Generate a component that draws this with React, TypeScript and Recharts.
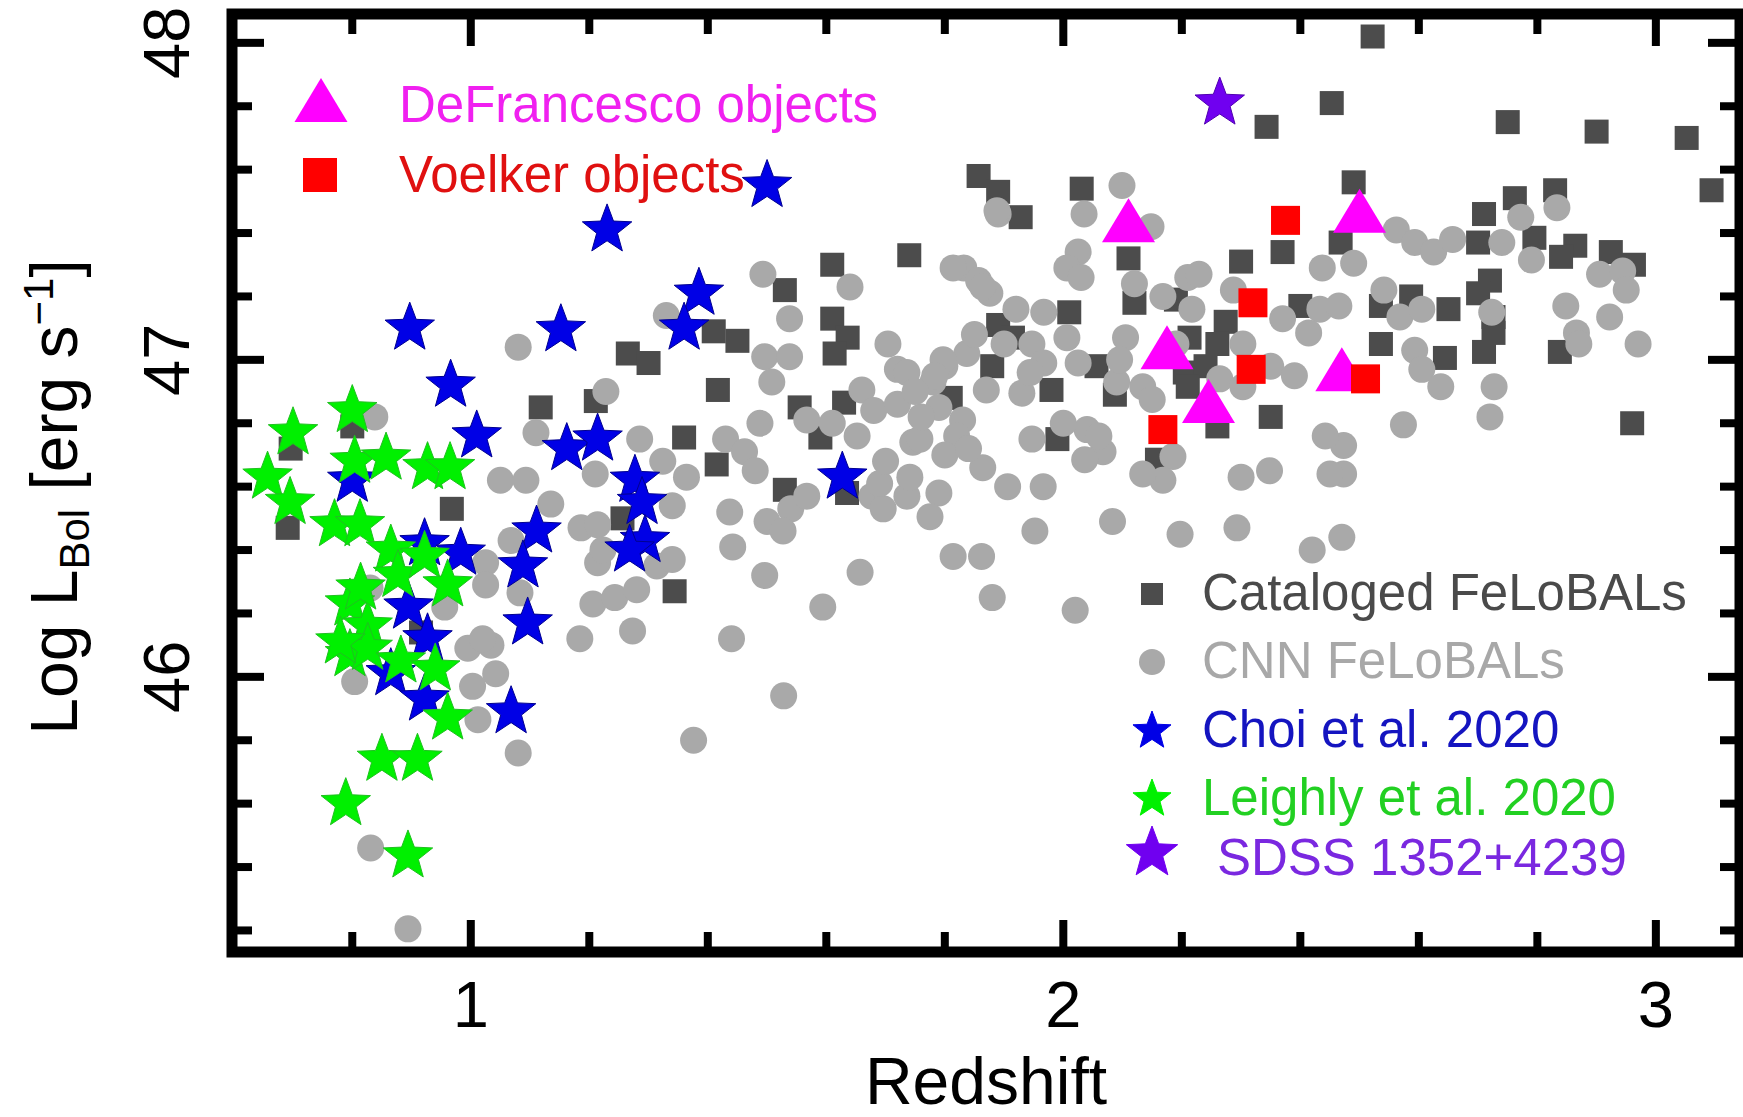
import React from "react";
import { ScatterChart, Scatter, XAxis, YAxis, ReferenceArea } from "recharts";

const FONT = '"Liberation Sans", Arial, Helvetica, sans-serif';

// axis ranges and ticks (minor every 0.2, labelled on integers)
const X_DOMAIN: [number, number] = [0.597, 3.142];
const Y_DOMAIN: [number, number] = [45.132, 48.091];
const X_TICKS = [0.8, 1, 1.2, 1.4, 1.6, 1.8, 2, 2.2, 2.4, 2.6, 2.8, 3];
const Y_TICKS = [45.2, 45.4, 45.6, 45.8, 46, 46.2, 46.4, 46.6, 46.8, 47, 47.2, 47.4, 47.6, 47.8, 48];

// [redshift, log L_bol]
const cataloged = [
  [0.691, 46.47], [0.696, 46.72], [0.8, 46.79], [0.968, 46.53], [1.118, 46.85], [1.211, 46.87],
  [0.916, 46.14], [1.256, 46.5], [1.61, 47.3], [1.53, 47.22], [1.74, 47.33], [1.61, 47.13],
  [1.636, 47.07], [1.614, 47.02], [1.265, 47.02], [1.3, 46.99], [1.41, 47.09], [1.45, 47.06],
  [1.417, 46.905], [1.36, 46.755], [1.415, 46.67], [1.555, 46.85], [1.63, 46.865], [1.59, 46.755],
  [1.53, 46.59], [1.635, 46.58], [1.344, 46.27], [1.857, 47.58], [1.89, 47.53], [1.928, 47.45],
  [2.031, 47.54], [2.11, 47.32], [2.12, 47.18], [2.01, 47.15], [1.89, 47.11], [1.915, 47.07],
  [2.19, 47.19], [2.205, 46.96], [1.98, 46.905], [1.88, 46.98], [2.522, 48.02], [2.453, 47.81],
  [2.343, 47.735], [2.75, 47.75], [2.9, 47.72], [3.052, 47.7], [3.094, 47.535], [2.49, 47.56],
  [2.71, 47.46], [2.762, 47.51], [2.83, 47.535], [2.37, 47.34], [2.3, 47.31], [2.468, 47.37],
  [2.7, 47.37], [2.795, 47.385], [2.864, 47.36], [2.84, 47.325], [2.924, 47.34], [2.963, 47.3],
  [2.72, 47.25], [2.7, 47.21], [2.65, 47.16], [2.587, 47.2], [2.536, 47.17], [2.726, 47.135],
  [2.726, 47.085], [2.71, 47.025], [2.536, 47.05], [2.644, 47.006], [2.838, 47.025], [2.274, 47.12],
  [2.4, 47.17], [2.26, 47.05], [2.24, 46.98], [2.96, 46.8], [2.21, 46.915], [1.99, 46.75],
  [2.087, 46.89], [2.26, 46.79], [2.35, 46.82], [2.158, 46.685], [2.056, 46.98], [1.81, 46.88],
  [2.213, 47.07],
];

const cnn = [
  [0.838, 46.82], [1.228, 46.9], [1.11, 46.77], [1.285, 46.75], [1.05, 46.62], [1.093, 46.62],
  [1.135, 46.545], [1.21, 46.64], [1.068, 46.43], [1.186, 46.47], [1.214, 46.48], [1.214, 46.36],
  [1.025, 46.36], [1.025, 46.29], [1.083, 46.265], [1.206, 46.23], [1.243, 46.25], [1.273, 46.145],
  [1.184, 46.12], [0.995, 46.09], [1.034, 46.1], [1.042, 46.01], [1.003, 45.97], [1.012, 45.865],
  [1.08, 45.76], [0.956, 46.22], [0.83, 46.28], [0.804, 45.985], [0.831, 45.46], [0.894, 45.205],
  [1.08, 47.04], [1.33, 47.14], [1.493, 47.27], [1.64, 47.23], [1.538, 47.13], [1.496, 47.01],
  [1.538, 47.01], [1.508, 46.93], [1.704, 47.05], [1.72, 46.97], [1.66, 46.905], [1.68, 46.84],
  [1.567, 46.81], [1.61, 46.8], [1.488, 46.8], [1.652, 46.76], [1.746, 46.74], [1.43, 46.75],
  [1.462, 46.71], [1.48, 46.65], [1.324, 46.68], [1.364, 46.63], [1.437, 46.52], [1.442, 46.41],
  [1.5, 46.49], [1.54, 46.53], [1.567, 46.57], [1.527, 46.46], [1.677, 46.57], [1.696, 46.53],
  [1.736, 46.57], [1.741, 46.63], [1.496, 46.32], [1.657, 46.33], [1.594, 46.22], [1.44, 46.12],
  [1.223, 46.4], [1.28, 46.275], [1.02, 46.12], [1.34, 46.54], [1.314, 46.35], [1.34, 46.37],
  [2.099, 47.55], [2.035, 47.46], [1.89, 47.46], [2.025, 47.34], [2.006, 47.29], [2.03, 47.26],
  [2.148, 47.42], [2.12, 47.24], [1.832, 47.29], [1.857, 47.25], [1.876, 47.21], [1.92, 47.16],
  [1.967, 47.15], [1.947, 47.05], [2.006, 47.07], [2.025, 46.99], [1.967, 46.99], [1.8, 46.98],
  [1.78, 46.93], [1.837, 47.02], [2.09, 46.93], [2.19, 47.05], [2.21, 47.26], [2.105, 47.07],
  [2.229, 47.27], [2.168, 47.2], [2.217, 47.16], [2.287, 47.22], [2.437, 47.29], [2.49, 47.305],
  [2.562, 47.41], [2.593, 47.37], [2.625, 47.34], [2.657, 47.38], [2.74, 47.37], [2.772, 47.45],
  [2.833, 47.48], [2.905, 47.27], [2.944, 47.28], [2.95, 47.22], [2.79, 47.315], [2.541, 47.22],
  [2.568, 47.135], [2.605, 47.16], [2.433, 47.16], [2.465, 47.17], [2.414, 47.085], [2.37, 47.13],
  [2.35, 46.98], [2.39, 46.95], [2.593, 47.03], [2.605, 46.97], [2.637, 46.915], [2.727, 46.915],
  [2.848, 47.17], [2.866, 47.085], [2.922, 47.135], [2.97, 47.05], [2.723, 47.15], [2.87, 47.05],
  [2.72, 46.82], [2.574, 46.795], [2.473, 46.73], [2.473, 46.64], [2.47, 46.44], [1.888, 47.47],
  [1.814, 47.29], [1.864, 47.23], [1.797, 47.0], [1.736, 46.96], [1.783, 46.95], [1.79, 46.85],
  [1.83, 46.81], [1.87, 46.905], [1.93, 46.895], [1.944, 46.96], [2.04, 46.78], [2.067, 46.71],
  [2.036, 46.685], [1.947, 46.75], [1.966, 46.6], [1.906, 46.6], [1.864, 46.66], [1.758, 46.75],
  [1.79, 46.58], [2.134, 46.915], [2.095, 47.0], [2.264, 46.94], [2.15, 46.875], [2.303, 47.05],
  [2.303, 46.915], [2.442, 46.76], [2.45, 46.64], [2.348, 46.65], [2.3, 46.63], [2.185, 46.695],
  [2.168, 46.62], [2.134, 46.64], [2.083, 46.49], [2.197, 46.45], [2.293, 46.47], [2.42, 46.4],
  [1.952, 46.46], [1.814, 46.38], [1.862, 46.38], [1.88, 46.25], [2.02, 46.21], [1.775, 46.505],
  [1.69, 46.61], [1.528, 45.94], [1.376, 45.8],
  [1.72, 46.86], [1.76, 46.82], [1.75, 46.9], [1.82, 46.76], [1.8, 46.7], [1.7, 46.68],
  [1.84, 46.72], [2.0, 46.8], [2.06, 46.76], [1.85, 47.08], [1.9, 47.05],
];

const choi = [
  [1.5, 47.55], [1.23, 47.41], [1.385, 47.21], [1.36, 47.1], [1.152, 47.095], [0.897, 47.1],
  [0.966, 46.92], [1.01, 46.76], [1.162, 46.72], [1.214, 46.75], [1.277, 46.62], [1.289, 46.55],
  [1.294, 46.43], [1.268, 46.4], [1.111, 46.46], [1.088, 46.35], [1.096, 46.17], [1.068, 45.89],
  [1.627, 46.63], [0.8, 46.62], [0.922, 46.42], [0.983, 46.39], [0.895, 46.22], [0.927, 46.12],
  [0.865, 46.01], [0.922, 45.93],
];

const leighly = [
  [0.7, 46.77], [0.8, 46.84], [0.657, 46.63], [0.695, 46.55], [0.804, 46.68], [0.857, 46.69],
  [0.927, 46.66], [0.965, 46.66], [0.77, 46.48], [0.813, 46.48], [0.865, 46.4], [0.877, 46.32],
  [0.922, 46.38], [0.961, 46.29], [0.796, 46.23], [0.826, 46.16], [0.796, 46.07], [0.826, 46.09],
  [0.882, 46.05], [0.94, 46.025], [0.961, 45.87], [0.85, 45.74], [0.91, 45.74], [0.789, 45.6],
  [0.894, 45.435], [0.78, 46.11], [0.814, 46.28],
];

const deFrancesco = [[2.11, 47.44], [2.5, 47.47], [2.175, 47.04], [2.245, 46.87], [2.47, 46.97]];
const voelker = [[2.375, 47.44], [2.32, 47.18], [2.317, 46.97], [2.168, 46.78], [2.51, 46.94]];
const sdss1352 = [[2.264, 47.81]];

const toPts = (a: number[][]) => a.map(([x, y]) => ({ x, y }));

const C_CAT = "#4c4c4c";
const C_CNN = "#a9a9a9";
const C_CHOI = "#0000e6";
const C_LEIGH = "#00f000";
const C_SDSS = "#7000f0";
const C_DEF = "#ff00ff";
const C_VOE = "#ff0000";

function starPath(cx: number, cy: number, R: number) {
  const r = R * 0.42;
  let d = "";
  for (let i = 0; i < 10; i++) {
    const rad = i % 2 === 0 ? R : r;
    const a = -Math.PI / 2 + (i * Math.PI) / 5;
    d += (i === 0 ? "M" : "L") + (cx + rad * Math.cos(a)).toFixed(2) + "," + (cy + rad * Math.sin(a)).toFixed(2);
  }
  return d + "Z";
}

const Star = ({ cx, cy, R, fill, stroke }: any) => (
  <path d={starPath(cx, cy, R)} fill={fill} stroke={stroke} strokeWidth={1} />
);
const Square = ({ cx, cy, s, fill }: any) => <rect x={cx - s / 2} y={cy - s / 2} width={s} height={s} fill={fill} />;
const Tri = ({ cx, cy, fill }: any) => (
  <path d={`M${cx},${cy - 22}L${cx - 26.5},${cy + 22}L${cx + 26.5},${cy + 22}Z`} fill={fill} />
);

const isMajor = (v: number) => Math.abs(v - Math.round(v)) < 1e-6;
const MAJOR = 32;
const MINOR = 20;
const TW = 8;

const BottomTick = ({ x, y, payload }: any) => {
  const v = payload.value;
  const m = isMajor(v);
  return (
    <g>
      <line x1={x} x2={x} y1={y} y2={y - (m ? MAJOR : MINOR)} stroke="#000" strokeWidth={TW} />
      {m && (
        <text x={x} y={y + 75} textAnchor="middle" fontSize={65} fontFamily={FONT} fill="#000">
          {v}
        </text>
      )}
    </g>
  );
};
const TopTick = ({ x, y, payload }: any) => (
  <line x1={x} x2={x} y1={y} y2={y + (isMajor(payload.value) ? MAJOR : MINOR)} stroke="#000" strokeWidth={TW} />
);
const LeftTick = ({ x, y, payload }: any) => {
  const v = payload.value;
  const m = isMajor(v);
  const lx = x - 43;
  return (
    <g>
      <line x1={x} x2={x + (m ? MAJOR : MINOR)} y1={y} y2={y} stroke="#000" strokeWidth={TW} />
      {m && (
        <text x={lx} y={y} transform={`rotate(-90 ${lx} ${y})`} textAnchor="middle" fontSize={65} fontFamily={FONT} fill="#000">
          {v}
        </text>
      )}
    </g>
  );
};
const RightTick = ({ x, y, payload }: any) => (
  <line x1={x} x2={x - (isMajor(payload.value) ? MAJOR : MINOR)} y1={y} y2={y} stroke="#000" strokeWidth={TW} />
);

const legendTop = [
  { label: "DeFrancesco objects", color: C_DEF, text: "#f020f0", y: 122, kind: "tri" },
  { label: "Voelker objects", color: C_VOE, text: "#e01010", y: 192, kind: "sq" },
];
const legendBottom = [
  { label: "Cataloged FeLoBALs", color: C_CAT, text: "#4a4a4a", y: 610, kind: "cat" },
  { label: "CNN FeLoBALs", color: C_CNN, text: "#a8a8a8", y: 678, kind: "cnn" },
  { label: "Choi et al. 2020", color: C_CHOI, text: "#1414c0", y: 747, kind: "star" },
  { label: "Leighly et al. 2020", color: C_LEIGH, text: "#22d022", y: 815, kind: "star" },
  { label: "SDSS 1352+4239", color: C_SDSS, text: "#7a28e0", y: 875, kind: "big" },
];

function Overlay() {
  return (
    <svg width={1743} height={1117} style={{ position: "absolute", left: 0, top: 0, pointerEvents: "none" }}>
      {legendTop.map((l) => (
        <g key={l.label}>
          {l.kind === "tri" ? (
            <Tri cx={321} cy={l.y - 22} fill={l.color} />
          ) : (
            <Square cx={320} cy={l.y - 17} s={34} fill={l.color} />
          )}
          <text x={399} y={l.y} fontSize={51} fontFamily={FONT} fill={l.text}>
            {l.label}
          </text>
        </g>
      ))}
      {legendBottom.map((l) => {
        const cy = l.y - 16;
        let mark;
        if (l.kind === "cat") mark = <Square cx={1152} cy={cy} s={22} fill={l.color} />;
        else if (l.kind === "cnn") mark = <circle cx={1152} cy={cy} r={13} fill={l.color} />;
        else if (l.kind === "star") mark = <Star cx={1152} cy={cy} R={20} fill={l.color} stroke={l.color} />;
        else mark = <Star cx={1152} cy={cy - 6} R={27} fill={l.color} stroke={l.color} />;
        return (
          <g key={l.label}>
            {mark}
            <text x={l.kind === "big" ? 1217 : 1202} y={l.y} fontSize={51} fontFamily={FONT} fill={l.text}>
              {l.label}
            </text>
          </g>
        );
      })}
      <text x={986} y={1104} textAnchor="middle" fontSize={66} fontFamily={FONT} fill="#000">
        Redshift
      </text>
      <text x={77} y={497} transform="rotate(-90 77 497)" textAnchor="middle" fontSize={66} fontFamily={FONT} fill="#000">
        Log L
        <tspan fontSize={42} dy={12}>Bol</tspan>
        <tspan dy={-12}> [erg s</tspan>
        <tspan fontSize={42} dy={-24}>−1</tspan>
        <tspan dy={24}>]</tspan>
      </text>
    </svg>
  );
}

export default function App() {
  return (
    <div style={{ position: "absolute", left: 0, top: 0, width: 1743, height: 1117, background: "#fff" }}>
      <style>{"body{margin:0}"}</style>
      <ScatterChart width={1743} height={1117} margin={{ top: 0, right: 0, bottom: 0, left: 0 }}>
        <XAxis
          xAxisId="b" type="number" dataKey="x" domain={X_DOMAIN} ticks={X_TICKS} allowDataOverflow
          orientation="bottom" height={165} tickSize={0} tickMargin={0} interval={0}
          axisLine={false} tickLine={false} tick={BottomTick}
        />
        <XAxis
          xAxisId="t" type="number" dataKey="x" domain={X_DOMAIN} ticks={X_TICKS} allowDataOverflow
          orientation="top" height={14} tickSize={0} tickMargin={0} interval={0}
          axisLine={false} tickLine={false} tick={TopTick}
        />
        <YAxis
          yAxisId="l" type="number" dataKey="y" domain={Y_DOMAIN} ticks={Y_TICKS} allowDataOverflow
          orientation="left" width={232} tickSize={0} tickMargin={0} interval={0}
          axisLine={false} tickLine={false} tick={LeftTick}
        />
        <YAxis
          yAxisId="r" type="number" dataKey="y" domain={Y_DOMAIN} ticks={Y_TICKS} allowDataOverflow
          orientation="right" width={3} tickSize={0} tickMargin={0} interval={0}
          axisLine={false} tickLine={false} tick={RightTick}
        />
        <Scatter xAxisId="b" yAxisId="l" data={toPts(cataloged)} isAnimationActive={false}
          shape={(p: any) => <Square cx={p.cx} cy={p.cy} s={24} fill={C_CAT} />} />
        <Scatter xAxisId="b" yAxisId="l" data={toPts(cnn)} isAnimationActive={false}
          shape={(p: any) => <circle cx={p.cx} cy={p.cy} r={13.5} fill={C_CNN} />} />
        <Scatter xAxisId="b" yAxisId="l" data={toPts(choi)} isAnimationActive={false}
          shape={(p: any) => <Star cx={p.cx} cy={p.cy} R={26} fill={C_CHOI} stroke="#000090" />} />
        <Scatter xAxisId="b" yAxisId="l" data={toPts(leighly)} isAnimationActive={false}
          shape={(p: any) => <Star cx={p.cx} cy={p.cy} R={26} fill={C_LEIGH} stroke="#20c020" />} />
        <Scatter xAxisId="b" yAxisId="l" data={toPts(deFrancesco)} isAnimationActive={false}
          shape={(p: any) => <Tri cx={p.cx} cy={p.cy} fill={C_DEF} />} />
        <Scatter xAxisId="b" yAxisId="l" data={toPts(voelker)} isAnimationActive={false}
          shape={(p: any) => <Square cx={p.cx} cy={p.cy} s={29} fill={C_VOE} />} />
        <Scatter xAxisId="b" yAxisId="l" data={toPts(sdss1352)} isAnimationActive={false}
          shape={(p: any) => <Star cx={p.cx} cy={p.cy} R={26} fill={C_SDSS} stroke="#5000b0" />} />
        <ReferenceArea
          xAxisId="b" yAxisId="l" x1={X_DOMAIN[0]} x2={X_DOMAIN[1]} y1={Y_DOMAIN[0]} y2={Y_DOMAIN[1]}
          fill="none" stroke="#000" strokeWidth={11} ifOverflow="visible"
        />
      </ScatterChart>
      <Overlay />
    </div>
  );
}
